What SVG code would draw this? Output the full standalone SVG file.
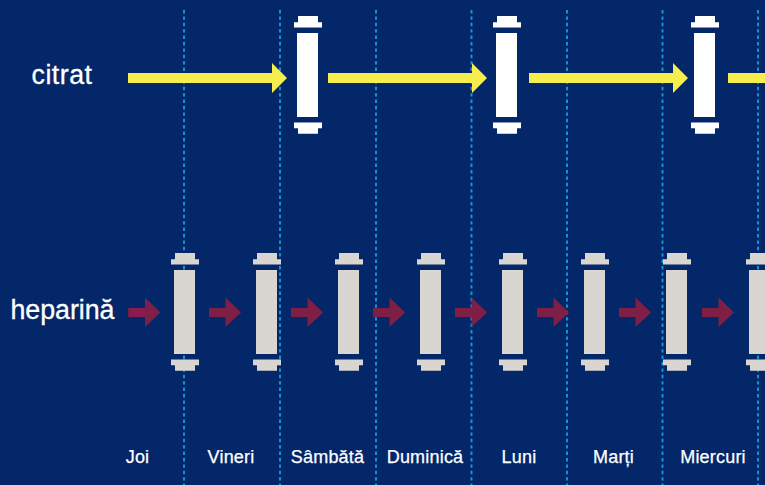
<svg xmlns="http://www.w3.org/2000/svg" width="765" height="485" viewBox="0 0 765 485">
<style>
text{font-family:"Liberation Sans",Arial,sans-serif;fill:#fff;stroke:#fff}
.l{font-size:26.800px;stroke-width:.3}
.d{font-size:18px;text-anchor:middle;stroke-width:.25;letter-spacing:.2px}
.g{stroke:#129bd8;stroke-width:1.900;stroke-dasharray:3.400 3;fill:none}
.y{fill:#f6ee4f}
.p{fill:#7f1f45}
.w{fill:#fff}
.c{fill:#d9d5d1}
</style>
<defs>
<g id="filter"><rect x="0" y="0" width="21" height="84"/><path d="M1-17H21V-10.700H25V-5.500H-3V-10.700H1Z"/><path d="M-3 89.500H25V95.300H21V100.700H1V95.300H-3Z"/></g>
<path id="ya" d="M0-5H144V-15L159 0 144 15V5H0Z"/>
<path id="pa" d="M0-4.500H16.500V-15L32 0 16.500 14.500V4.500H0Z"/>
</defs>
<rect width="765" height="485" fill="#04276a"/>
<g id="guides">
<path class="g" d="M184 10V485M280 10V485M376 10V485M471.500 10V485M567 10V485M662.500 10V485M758 10V485"/>
</g>
<g id="connectors">
<use href="#ya" class="y" x="128" y="78"/>
<use href="#ya" class="y" x="328" y="78"/>
<use href="#ya" class="y" x="529" y="78"/>
<use href="#ya" class="y" x="728" y="78"/>
<use href="#pa" class="p" x="128.500" y="312.500"/>
<rect x="128.500" y="308" width="16.500" height="9" fill="#8b1a50"/>
<use href="#pa" class="p" x="209" y="312.500"/>
<use href="#pa" class="p" x="291" y="312.500"/>
<use href="#pa" class="p" x="373" y="312.500"/>
<use href="#pa" class="p" x="455" y="312.500"/>
<use href="#pa" class="p" x="537" y="312.500"/>
<use href="#pa" class="p" x="619" y="312.500"/>
<use href="#pa" class="p" x="702" y="312.500"/>
</g>
<g id="citrat-filters">
<g id="c1"><use href="#filter" class="w" x="297" y="33"/></g>
<g id="c2"><use href="#filter" class="w" x="496" y="33"/></g>
<g id="c3"><use href="#filter" class="w" x="694" y="33"/></g>
</g>
<g id="heparin-filters">
<g id="h1"><use href="#filter" class="c" x="174" y="270"/></g>
<g id="h2"><use href="#filter" class="c" x="256" y="270"/></g>
<g id="h3"><use href="#filter" class="c" x="338" y="270"/></g>
<g id="h4"><use href="#filter" class="c" x="420" y="270"/></g>
<g id="h5"><use href="#filter" class="c" x="502" y="270"/></g>
<g id="h6"><use href="#filter" class="c" x="584" y="270"/></g>
<g id="h7"><use href="#filter" class="c" x="666" y="270"/></g>
<g id="h8"><use href="#filter" class="c" x="749" y="270"/></g>
</g>
<g id="labels">
<text class="l" x="31.500" y="84" textLength="60.500">citrat</text>
<text class="l" x="10.500" y="319" textLength="104">heparină</text>
<text class="d" x="137.500" y="463">Joi</text>
<text class="d" x="231" y="463">Vineri</text>
<text class="d" x="327.500" y="463">Sâmbătă</text>
<text class="d" x="425" y="463">Duminică</text>
<text class="d" x="519" y="463">Luni</text>
<text class="d" x="613.500" y="463">Marți</text>
<text class="d" x="713" y="463">Miercuri</text>
</g>
</svg>
